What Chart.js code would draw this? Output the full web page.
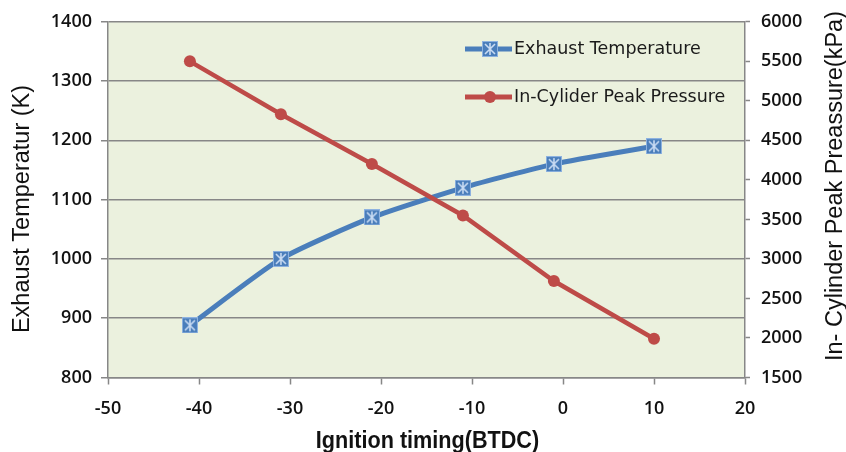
<!DOCTYPE html>
<html><head><meta charset="utf-8">
<script src="https://cdn.jsdelivr.net/npm/chart.js@4/dist/chart.umd.min.js"></script>
<style>html,body{margin:0;padding:0;background:#fff;}</style>
</head><body>
<canvas id="c" width="846" height="452"></canvas>
<script>
// ---- data ----
const ignitionTiming = [-41, -31, -21, -11, -1, 10];
const exhaustTemperature = [888, 1000, 1070, 1120, 1160, 1190];
const peakPressure = [5500, 4830, 4200, 3550, 2720, 1990];
const xTickValues = [-50, -40, -30, -20, -10, 0, 10, 20];
const tempTickValues = [800, 900, 1000, 1100, 1200, 1300, 1400];
const pressureTickValues = [1500, 2000, 2500, 3000, 3500, 4000, 4500, 5000, 5500, 6000];
const seriesNames = ['Exhaust Temperature', 'In-Cylider Peak Pressure'];
const axisTitles = { x: 'Ignition timing(BTDC)', y: 'Exhaust Temperatur (K)', y1: 'In- Cylinder Peak Preassure(kPa)' };

const BLUE = '#4a7ebb', RED = '#be4b48', GRID = '#878787';
const tickFont = { family: "'Open Sans', sans-serif", size: 18, weight: '600' };
const plainNumber = v => String(v);

function makeBlueMarker() {
  const c = document.createElement('canvas'); c.width = 16; c.height = 16;
  const g = c.getContext('2d');
  g.fillStyle = BLUE; g.fillRect(0, 0, 16, 16);
  g.strokeStyle = '#8db2e0'; g.lineWidth = 1; g.strokeRect(0.5, 0.5, 15, 15);
  g.strokeStyle = '#c8dbf3'; g.lineWidth = 1.6;
  g.beginPath();
  g.moveTo(3, 3); g.lineTo(13, 13); g.moveTo(13, 3); g.lineTo(3, 13);
  g.moveTo(8, 2); g.lineTo(8, 14);
  g.stroke();
  return c;
}
const blueMarker = makeBlueMarker();

const plotBg = {
  id: 'plotBg',
  beforeDraw(chart) {
    const { ctx, chartArea: a } = chart;
    ctx.save();
    ctx.fillStyle = '#fff'; ctx.fillRect(0, 0, chart.width, chart.height);
    ctx.fillStyle = '#ebf1de'; ctx.fillRect(a.left, a.top, a.right - a.left, a.bottom - a.top);
    ctx.restore();
  }
};

const extras = {
  id: 'extras',
  afterDraw(chart) {
    const ctx = chart.ctx;
    const a = chart.chartArea;
    ctx.save();
    ctx.fillStyle = '#111';
    // y axis titles (both read bottom-to-top)
    ctx.font = "23.5px 'Liberation Sans', Arial, sans-serif";
    ctx.textAlign = 'center'; ctx.textBaseline = 'middle';
    ctx.save(); ctx.translate(23, 209); ctx.rotate(-Math.PI / 2); ctx.fillText(axisTitles.y, 0, 0); ctx.restore();
    ctx.save(); ctx.translate(836, 186); ctx.rotate(-Math.PI / 2); ctx.fillText(axisTitles.y1, 0, 0); ctx.restore();
    // x axis title (condensed bold)
    ctx.save();
    ctx.translate((a.left + a.right) / 2 + 1, 448);
    ctx.scale(0.94, 1);
    ctx.font = "bold 23px 'Liberation Sans', Arial, sans-serif";
    ctx.textAlign = 'center'; ctx.textBaseline = 'alphabetic';
    ctx.fillText(axisTitles.x, 0, 0);
    ctx.restore();

    // legend inside plot area
    const items = [
      { y: 49, color: BLUE, marker: 'img' },
      { y: 97, color: RED, marker: 'circle' }
    ];
    items.forEach((it, i) => {
      ctx.strokeStyle = it.color; ctx.lineWidth = 5; ctx.lineCap = 'butt';
      ctx.beginPath(); ctx.moveTo(465, it.y); ctx.lineTo(512, it.y); ctx.stroke();
      if (it.marker === 'img') ctx.drawImage(blueMarker, 490 - 8, it.y - 8);
      else { ctx.fillStyle = RED; ctx.beginPath(); ctx.arc(490, it.y, 6, 0, Math.PI * 2); ctx.fill(); }
      ctx.fillStyle = '#1a1a1a';
      ctx.font = "17.5px 'DejaVu Sans', sans-serif";
      ctx.textAlign = 'left'; ctx.textBaseline = 'middle';
      ctx.fillText(seriesNames[i], 514, it.y);
    });
    ctx.restore();
  }
};

new Chart(document.getElementById('c'), {
  type: 'line',
  data: {
    datasets: [
      {
        label: seriesNames[0],
        data: ignitionTiming.map((x, i) => ({ x, y: exhaustTemperature[i] })),
        yAxisID: 'y', borderColor: BLUE, backgroundColor: BLUE, borderWidth: 5,
        tension: 0.2, pointStyle: blueMarker, pointRadius: 8, order: 1
      },
      {
        label: seriesNames[1],
        data: ignitionTiming.map((x, i) => ({ x, y: peakPressure[i] })),
        yAxisID: 'y1', borderColor: RED, backgroundColor: RED, borderWidth: 4.5,
        tension: 0, pointStyle: 'circle', pointRadius: 6, pointBorderWidth: 0, order: 0
      }
    ]
  },
  options: {
    responsive: false, animation: false, devicePixelRatio: 1,
    layout: { padding: { top: 18.5, left: 0, right: 0, bottom: 0 } },
    plugins: { legend: { display: false }, tooltip: { enabled: false } },
    scales: {
      x: {
        type: 'linear', min: -50, max: 20,
        afterBuildTicks: s => { s.ticks = xTickValues.map(v => ({ value: v })); },
        ticks: { font: tickFont, color: '#111', padding: 14, callback: plainNumber },
        grid: { drawOnChartArea: false, drawTicks: true, tickLength: 7, tickColor: GRID, tickWidth: 1.5 },
        border: { color: GRID, width: 1.5 },
        title: { display: false },
        afterFit: s => { s.height = 74.5; }
      },
      y: {
        position: 'left', min: 800, max: 1400,
        afterBuildTicks: s => { s.ticks = tempTickValues.map(v => ({ value: v })); },
        ticks: { font: tickFont, color: '#111', padding: 9, callback: plainNumber },
        grid: { color: GRID, lineWidth: 1.5, tickLength: 7 },
        border: { color: GRID, width: 1.5 },
        afterFit: s => { s.width = 108; }
      },
      y1: {
        position: 'right', min: 1500, max: 6000,
        afterBuildTicks: s => { s.ticks = pressureTickValues.map(v => ({ value: v })); },
        ticks: { font: tickFont, color: '#111', padding: 11, callback: plainNumber },
        grid: { drawOnChartArea: false, tickLength: 5, tickColor: GRID, tickWidth: 1.5 },
        border: { color: GRID, width: 1.5 },
        afterFit: s => { s.width = 101; }
      }
    }
  },
  plugins: [plotBg, extras]
});
</script>
</body></html>
